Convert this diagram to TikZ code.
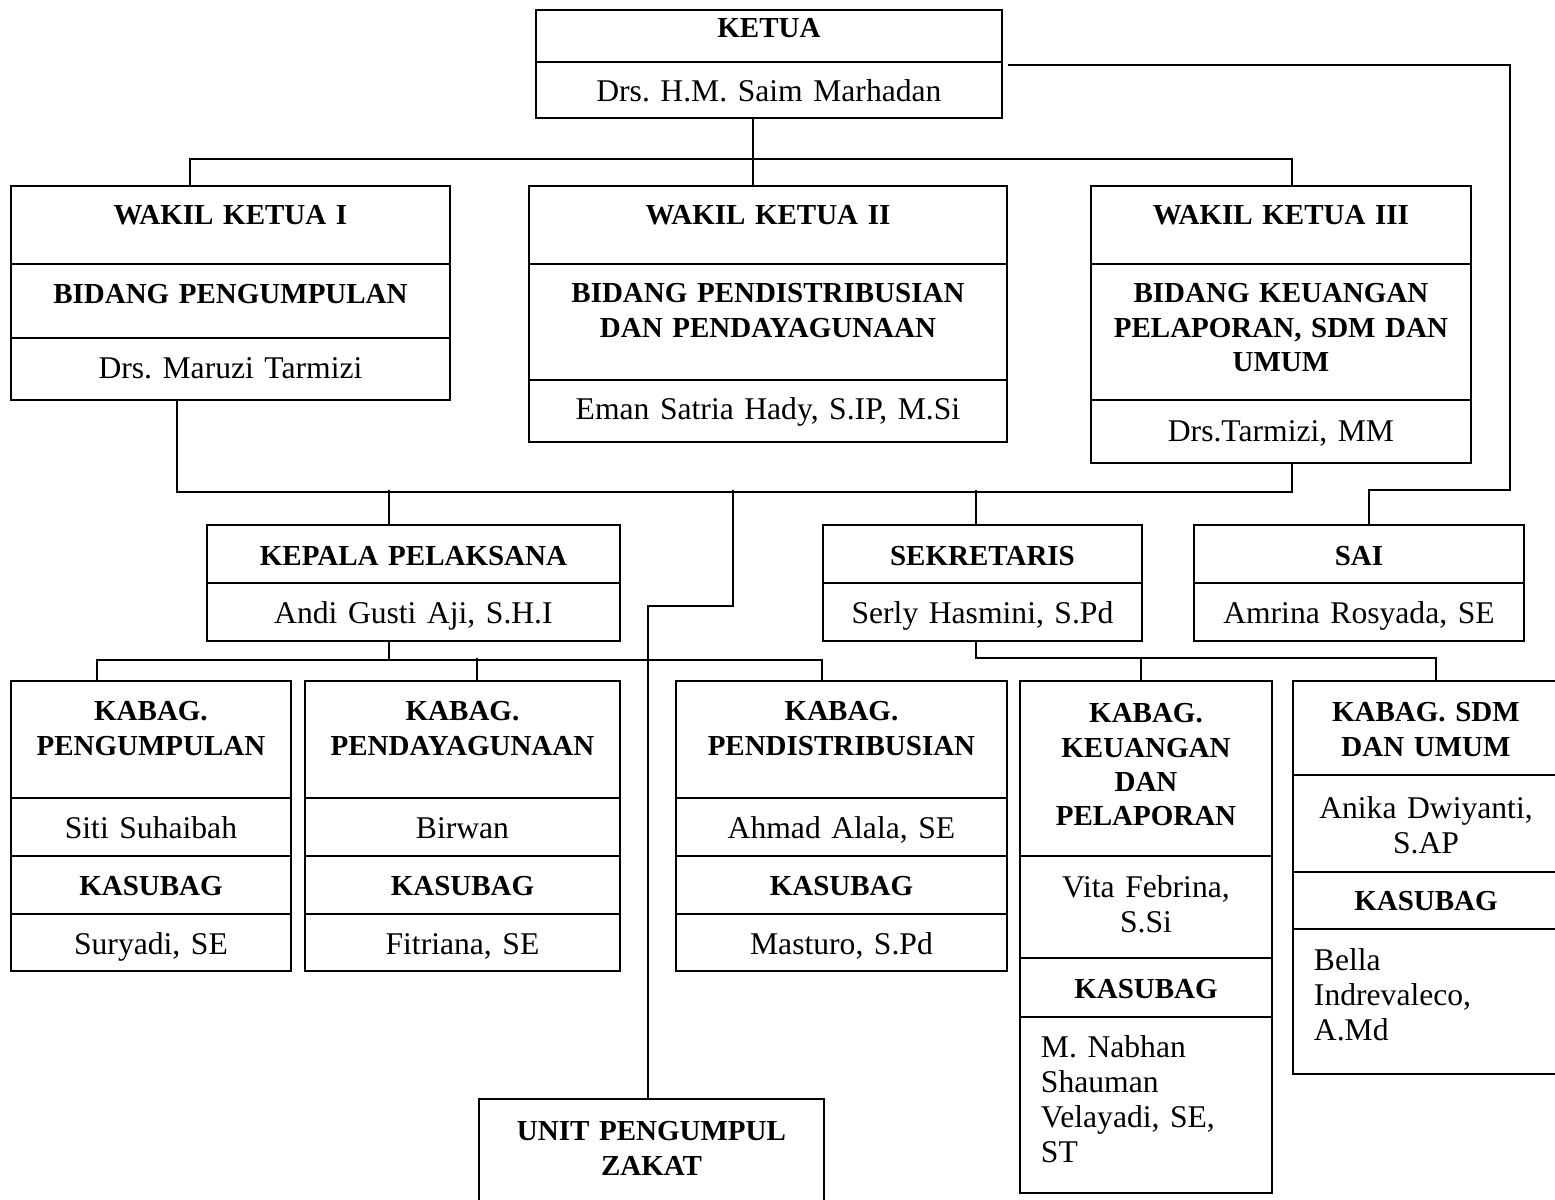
\documentclass[tikz,border=0pt]{standalone}
\usepackage{fontspec}
\setmainfont{Liberation Serif}
\usepackage{tikz}
\usetikzlibrary{calc}
\frenchspacing

\tikzset{
  link/.style={line width=1.1pt},
  cell/.style n args={3}{draw, line width=1.1pt, inner sep=0pt, anchor=north west,
    align=center, text width=#1*0.02cm,
    text height=#3*0.02cm, text depth=(#2-#3)*0.02cm,
    font=\fontsize{18}{20}\selectfont},
  head/.style={font=\fontsize{16.5}{19.6}\selectfont\bfseries},
  leftname/.style={align=left, inner xsep=0.42cm, text width=(#1-42)*0.02cm},
}

\begin{document}
\begin{tikzpicture}[x=0.02cm, y=-0.02cm]
        \useasboundingbox (0,0) rectangle (1555,1200);
        \clip (0,0) rectangle (1555,1200);
        % Ketua
        \node[cell={466}{52}{28}, head] (kt) at (535,9) {KETUA};
        \node[cell={466}{56}{39.5}] (ktn) at (535,61) {Drs. H.M. Saim Marhadan};
        % Wakil ketua
        \node[cell={439}{78}{38.6}, head] (wka) at (10,185) {WAKIL KETUA I};
        \node[cell={439}{74}{39.6}, head] (wkab) at (10,263) {BIDANG PENGUMPULAN};
        \node[cell={439}{62}{40.5}] (wkan) at (10,337) {Drs. Maruzi Tarmizi};
        \node[cell={478}{78}{38.6}, head] (wkb) at (528,185) {WAKIL KETUA II};
        \node[cell={478}{116}{38.6}, head] (wkbb) at (528,263) {BIDANG PENDISTRIBUSIAN\\DAN PENDAYAGUNAAN};
        \node[cell={478}{62}{39.5}] (wkbn) at (528,379) {Eman Satria Hady, S.IP, M.Si};
        \node[cell={380}{78}{38.6}, head] (wkc) at (1090,185) {WAKIL KETUA III};
        \node[cell={380}{136}{38.6}, head] (wkcb) at (1090,263) {BIDANG KEUANGAN\\PELAPORAN, SDM DAN\\UMUM};
        \node[cell={380}{63}{41.5}] (wkcn) at (1090,399) {Drs.Tarmizi, MM};
        % Pelaksana, sekretaris, SAI
        \node[cell={413}{58}{40.6}, head] (kp) at (206,524) {KEPALA PELAKSANA};
        \node[cell={413}{58}{40.5}] (kpn) at (206,582) {Andi Gusti Aji, S.H.I};
        \node[cell={319}{58}{40.6}, head] (sek) at (822,524) {SEKRETARIS};
        \node[cell={319}{58}{40.5}] (sekn) at (822,582) {Serly Hasmini, S.Pd};
        \node[cell={330}{58}{40.6}, head] (sai) at (1193,524) {SAI};
        \node[cell={330}{58}{40.5}] (sain) at (1193,582) {Amrina Rosyada, SE};
        % Kabag
        \node[cell={280}{117}{39.6}, head] (kb1) at (10,680) {KABAG.\\PENGUMPULAN};
        \node[cell={280}{58}{40.5}] (kb1n) at (10,797) {Siti Suhaibah};
        \node[cell={280}{58}{39.6}, head] (kb1s) at (10,855) {KASUBAG};
        \node[cell={280}{57}{40.5}] (kb1sn) at (10,913) {Suryadi, SE};
        \node[cell={315}{117}{39.6}, head] (kb2) at (304,680) {KABAG.\\PENDAYAGUNAAN};
        \node[cell={315}{58}{40.5}] (kb2n) at (304,797) {Birwan};
        \node[cell={315}{58}{39.6}, head] (kb2s) at (304,855) {KASUBAG};
        \node[cell={315}{57}{40.5}] (kb2sn) at (304,913) {Fitriana, SE};
        \node[cell={331}{117}{39.6}, head] (kb3) at (675,680) {KABAG.\\PENDISTRIBUSIAN};
        \node[cell={331}{58}{40.5}] (kb3n) at (675,797) {Ahmad Alala, SE};
        \node[cell={331}{58}{39.6}, head] (kb3s) at (675,855) {KASUBAG};
        \node[cell={331}{57}{40.5}] (kb3sn) at (675,913) {Masturo, S.Pd};
        \node[cell={252}{175}{41.6}, head] (kb4) at (1019,680) {KABAG.\\KEUANGAN\\DAN\\PELAPORAN};
        \node[cell={252}{102}{41.5}] (kb4n) at (1019,855) {Vita Febrina,\\S.Si};
        \node[cell={252}{59}{40.6}, head] (kb4s) at (1019,957) {KASUBAG};
        \node[cell={252}{176}{40.5}, leftname={252}] (kb4sn) at (1019,1016) {M. Nabhan\\Shauman\\Velayadi, SE,\\ST};
        \node[cell={266}{94}{40.6}, head] (kb5) at (1292,680) {KABAG. SDM\\DAN UMUM};
        \node[cell={266}{97}{43.5}] (kb5n) at (1292,774) {Anika Dwiyanti,\\S.AP};
        \node[cell={266}{57}{38.6}, head] (kb5s) at (1292,871) {KASUBAG};
        \node[cell={266}{145}{41.5}, leftname={266}] (kb5sn) at (1292,928) {Bella\\Indrevaleco,\\A.Md};
        % Unit
        \node[cell={345}{142}{41.6}, head] (unit) at (478,1098) {UNIT PENGUMPUL\\ZAKAT};
        % Ketua ke wakil
        \draw[link] ($(ktn.south west)+(218,0)$) -- ++(0,40) coordinate (j1);
        \draw[link] ($(wka.north west)+(180,0)$) |- (j1) -| ($(wkc.north west)+(202,0)$);
        \draw[link] (j1) -- (j1 |- wkb.north);
        % Ketua ke SAI
        \draw[link] ($(ktn.north east)+(5,4)$) -| (1510,490) -| ($(sai.north west)+(176,0)$);
        % Wakil ke pelaksana, sekretaris, unit
        \draw[link] ($(wkan.south west)+(167,0)$) |- ($(wkcn.south west)+(202,28)$) -- ++(0,-28);
        \draw[link] ($(kp.north west)+(183,0)$) -- ++(0,-34);
        \draw[link] ($(sek.north west)+(154,0)$) -- ++(0,-34);
        \draw[link] ($(unit.north west)+(170,0)$) |- ++(85,-492) -- ++(0,-116);
        % Pelaksana ke kabag
        \draw[link] ($(kpn.south west)+(183,0)$) -- ++(0,18) coordinate (j3);
        \draw[link] ($(kb1.north west)+(87,0)$) |- (j3) -| ($(kb3.north west)+(147,0)$);
        \draw[link] ($(kb2.north west)+(173,0)$) -- ++(0,-22);
        % Sekretaris ke kabag
        \draw[link] ($(sekn.south west)+(154,0)$) |- ($(kb5.north west)+(144,-22)$) -- ++(0,22);
        \draw[link] ($(kb4.north west)+(122,0)$) -- ++(0,-22);
    \end{tikzpicture}
\end{document}
